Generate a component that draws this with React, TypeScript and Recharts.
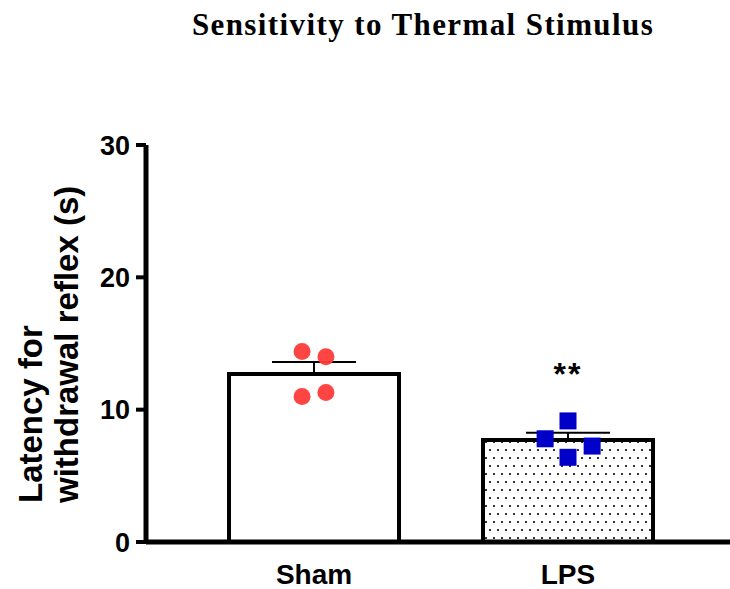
import {
  ComposedChart,
  Bar,
  Cell,
  ErrorBar,
  Scatter,
  XAxis,
  YAxis,
} from "recharts";

const groups = ["Sham", "LPS"];
const means = [12.7, 7.7];
const sems = [0.9, 0.55];
const shamValues = [14.4, 14.0, 11.0, 11.3];
const shamJitter = [-0.047, 0.047, -0.047, 0.047];
const lpsValues = [9.15, 7.8, 7.25, 6.4];
const lpsJitter = [0, -0.09, 0.095, 0];
const yTicks = [0, 10, 20, 30];
const sigLabel = "**";
const sigValue = 11.9;

const barData = groups.map((g, i) => ({ group: g, mean: means[i], err: [0, sems[i]] }));
const shamPoints = shamValues.map((v, i) => ({ x: 0.5 + shamJitter[i], y: v }));
const lpsPoints = lpsValues.map((v, i) => ({ x: 1.5 + lpsJitter[i], y: v }));
const sigPoints = [{ x: 1.5, y: sigValue }];

const sans = "'Liberation Sans', Arial, Helvetica, sans-serif";

const YLabel = (props: any) => {
  const vb = props.viewBox || { x: 0, y: 145, width: 146, height: 397 };
  const yStart = 503;
  return (
    <g>
      <text
        transform={`translate(${vb.x + 42},${yStart}) rotate(-90)`}
        fontFamily={sans}
        fontWeight="bold"
        fontSize={33}
        fill="#000"
        textAnchor="start"
      >
        Latency for
      </text>
      <text
        transform={`translate(${vb.x + 78},${yStart}) rotate(-90)`}
        fontFamily={sans}
        fontWeight="bold"
        fontSize={33}
        fill="#000"
        textAnchor="start"
      >
        withdrawal reflex (s)
      </text>
    </g>
  );
};

export default function App() {
  return (
    <div style={{ position: "absolute", left: 0, top: 0, width: 730, height: 589, background: "#fff" }}>
      <div
        style={{
          position: "absolute",
          left: 146,
          width: 554,
          top: 9,
          textAlign: "center",
          fontFamily: "'Liberation Serif', 'Times New Roman', serif",
          fontWeight: "bold",
          fontSize: 31,
          letterSpacing: 1.4,
          lineHeight: "31px",
          color: "#000",
          whiteSpace: "nowrap",
        }}
      >
        Sensitivity to Thermal Stimulus
      </div>
      <ComposedChart
        width={730}
        height={589}
        data={barData}
        margin={{ top: 145, right: 0, bottom: 0, left: 0 }}
      >
        <defs>
          <pattern id="dots" width="8" height="16" patternUnits="userSpaceOnUse">
            <rect width="8" height="16" fill="#fff" />
            <rect x="1" y="1" width="2" height="2" fill="#333" />
            <rect x="5" y="9" width="2" height="2" fill="#333" />
          </pattern>
        </defs>
        <XAxis
          dataKey="group"
          type="category"
          padding={{ left: 41, right: 35 }}
          height={47}
          axisLine={{ stroke: "#000", strokeWidth: 5 }}
          tickLine={false}
          tickSize={0}
          tickMargin={22}
          tick={{ fill: "#000", fontSize: 28, fontWeight: "bold", fontFamily: sans }}
        />
        <XAxis
          xAxisId="pos"
          dataKey="x"
          type="number"
          domain={[0, 2]}
          padding={{ left: 41, right: 35 }}
          hide
        />
        <YAxis
          width={146}
          domain={[0, 30]}
          ticks={yTicks}
          interval={0}
          axisLine={{ stroke: "#000", strokeWidth: 5 }}
          tickLine={{ stroke: "#000", strokeWidth: 4 }}
          tickSize={10}
          tickMargin={6}
          tick={{ fill: "#000", fontSize: 27, fontWeight: "bold", fontFamily: sans }}
          label={{ content: YLabel }}
        />
        <Bar dataKey="mean" barSize={170} stroke="#000" strokeWidth={4} isAnimationActive={false}>
          {barData.map((d, i) => (
            <Cell key={d.group} fill={i === 0 ? "#fff" : "url(#dots)"} />
          ))}
          <ErrorBar dataKey="err" width={42} stroke="#000" strokeWidth={2} direction="y" />
        </Bar>
        <Scatter
          xAxisId="pos"
          data={shamPoints}
          dataKey="y"
          isAnimationActive={false}
          shape={(p: any) => <circle cx={p.cx} cy={p.cy} r={8.5} fill="#ff3a3a" fillOpacity={0.95} />}
        />
        <Scatter
          xAxisId="pos"
          data={lpsPoints}
          dataKey="y"
          isAnimationActive={false}
          shape={(p: any) => (
            <rect x={p.cx - 8.5} y={p.cy - 8.5} width={17} height={17} fill="#0000c8" />
          )}
        />
        <Scatter
          xAxisId="pos"
          data={sigPoints}
          dataKey="y"
          isAnimationActive={false}
          shape={(p: any) => (
            <text
              x={p.cx}
              y={p.cy}
              textAnchor="middle"
              fontFamily={sans}
              fontWeight="bold"
              fontSize={32}
              letterSpacing={2}
              fill="#000"
            >
              {sigLabel}
            </text>
          )}
        />
      </ComposedChart>
    </div>
  );
}
